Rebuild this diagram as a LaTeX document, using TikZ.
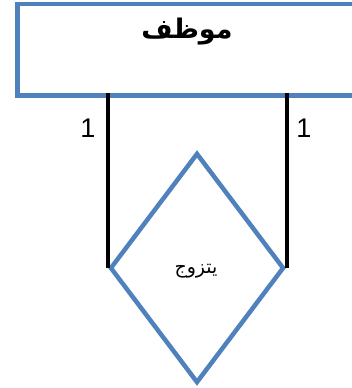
\documentclass[tikz,border=0pt]{standalone}
\usepackage{fontspec}
\setmainfont{Liberation Sans}
\newfontfamily\arabicfont[Script=Arabic]{DejaVu Sans}
\TeXXeTstate=1
\usetikzlibrary{shapes.geometric}
\definecolor{ebl}{HTML}{4F81BD}
\tikzset{
  entbox/.style={draw=ebl, line width=4.5pt, fill=white, inner sep=0pt},
  relbox/.style={draw=ebl, line width=4.5pt, diamond, inner sep=0pt, minimum width=174pt, minimum height=230pt},
  link/.style={line width=4.5pt, black},
  card/.style={font=\fontsize{27}{27}\selectfont, inner sep=0pt}
}
\begin{document}
\begin{tikzpicture}[x=1pt,y=-1pt]
\useasboundingbox (0,0) rectangle (352,388);
\begin{scope}
\clip (0,0) rectangle (352,388);
\node[entbox, minimum width=360pt, minimum height=91.5pt, anchor=north west] (emp) at (15,1.5) {};
\end{scope}
\node[inner sep=0pt] (empt) at (187,32) {\arabicfont\fontsize{27}{27}\selectfont\bfseries\beginR موظف\endR};
\node[relbox] (rel) at (197,268) {};
\node[inner sep=0pt] (relt) at (196,271) {\arabicfont\fontsize{19}{19}\selectfont\beginR يتزوج\endR};
\coordinate (l1) at (108,93);
\coordinate (r1) at (287,93);
\draw[link] (l1) -- (l1 |- rel.west);
\draw[link] (r1) -- (r1 |- rel.east);
\node[card] (c1) at (88,128) {1};
\node[card] (c2) at (304,128) {1};
\end{tikzpicture}
\end{document}
